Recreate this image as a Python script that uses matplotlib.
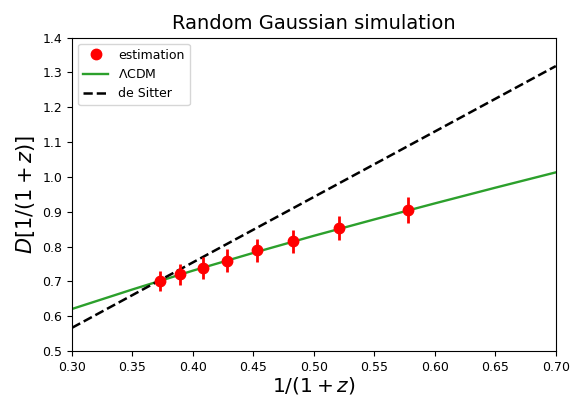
import numpy as np
import matplotlib
matplotlib.use("Agg")
import matplotlib.pyplot as plt

# estimation points
a_est = [0.373, 0.389, 0.408, 0.428, 0.453, 0.483, 0.521, 0.578]
D_est = [0.701, 0.720, 0.738, 0.760, 0.789, 0.815, 0.853, 0.905]
D_err = [0.029, 0.030, 0.031, 0.032, 0.033, 0.034, 0.035, 0.037]

# LCDM curve
a_lcdm = [0.30, 0.35, 0.40, 0.45, 0.50, 0.55, 0.60, 0.65, 0.70]
D_lcdm = [0.621, 0.677, 0.731, 0.782, 0.831, 0.878, 0.924, 0.969, 1.013]

# de Sitter
a_ds = [0.30, 0.70]
D_ds = [0.567, 1.318]

fig = plt.figure(figsize=(5.73, 3.99), dpi=100)
ax = fig.add_axes([0.1257, 0.12, 0.8443, 0.786])

ax.plot(a_est, D_est, "o", color="red", markersize=7.5, label="estimation", zorder=4)
ax.errorbar(a_est, D_est, yerr=D_err, fmt="none", ecolor="red",
            elinewidth=2, zorder=3)
ax.plot(a_lcdm, D_lcdm, color="tab:green", lw=1.7, label=r"$\Lambda$CDM")
ax.plot(a_ds, D_ds, "k--", lw=1.8, label="de Sitter")

ax.set_xlim(0.3, 0.7)
ax.set_ylim(0.5, 1.4)
ax.set_xticks(np.arange(0.30, 0.701, 0.05))
ax.set_yticks(np.arange(0.5, 1.401, 0.1))
ax.tick_params(labelsize=9)
ax.set_xlabel(r"$1/(1+z)$", fontsize=14.5, labelpad=1)
ax.set_ylabel(r"$D[1/(1+z)]$", fontsize=15)
ax.set_title("Random Gaussian simulation", fontsize=14)
ax.legend(loc="upper left", fontsize=9)

fig.savefig("out.png", dpi=100)
